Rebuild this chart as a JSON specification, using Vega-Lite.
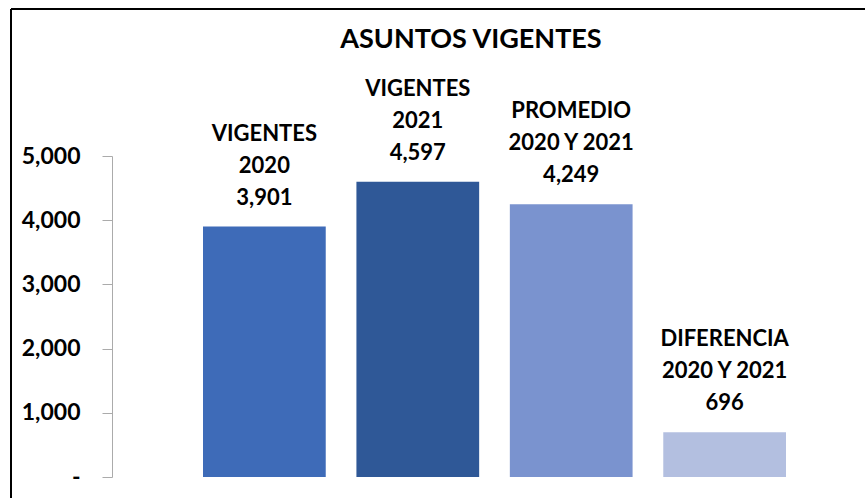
{
  "$schema": "https://vega.github.io/schema/vega-lite/v6.json",
  "autosize": {"type": "none"},
  "padding": {"left": 11, "top": 9, "right": 0, "bottom": 0},
  "width": 858,
  "height": 492,
  "background": "#ffffff",
  "title": {
    "text": "ASUNTOS VIGENTES",
    "anchor": "middle",
    "frame": "group",
    "offset": -66,
    "baseline": "alphabetic",
    "dx": 31,
    "font": "Lato",
    "fontSize": 27,
    "fontWeight": "bold",
    "color": "#000000"
  },
  "config": {
    "view": {"stroke": "#000000", "strokeWidth": 2, "strokeDash": [858, 1350, 492, 0]},
    "axis": {"grid": false}
  },
  "data": {
    "values": [
      {"categoria": "VIGENTES 2020", "valor": 3901, "etiqueta": "VIGENTES\n2020\n3,901"},
      {"categoria": "VIGENTES 2021", "valor": 4597, "etiqueta": "VIGENTES\n2021\n4,597"},
      {"categoria": "PROMEDIO 2020 Y 2021", "valor": 4249, "etiqueta": "PROMEDIO\n2020 Y 2021\n4,249"},
      {"categoria": "DIFERENCIA 2020 Y 2021", "valor": 696, "etiqueta": "DIFERENCIA\n2020 Y 2021\n696"}
    ]
  },
  "encoding": {
    "x": {
      "field": "categoria",
      "type": "nominal",
      "sort": null,
      "axis": null,
      "scale": {"range": [192, 775], "paddingInner": 0.2, "paddingOuter": 0}
    },
    "y": {
      "field": "valor",
      "type": "quantitative",
      "scale": {"domain": [0, 5000], "range": [468, 147], "nice": false},
      "axis": {
        "title": null,
        "orient": "left",
        "offset": -101,
        "values": [0, 1000, 2000, 3000, 4000, 5000],
        "labelExpr": "datum.value == 0 ? '-\u00a0\u00a0\u00a0\u00a0\u00a0' : format(datum.value, ',')",
        "domainColor": "#ababab",
        "domainWidth": 1,
        "tickColor": "#ababab",
        "tickSize": 10,
        "tickWidth": 1,
        "labelPadding": 22,
        "labelFont": "Lato",
        "labelFontSize": 23,
        "labelFontWeight": "bold",
        "labelColor": "#000000",
        "labelAlign": "right",
        "labelBaseline": "middle"
      }
    }
  },
  "layer": [
    {
      "mark": {"type": "bar"},
      "encoding": {
        "color": {
          "field": "categoria",
          "type": "nominal",
          "legend": null,
          "scale": {
            "domain": ["VIGENTES 2020", "VIGENTES 2021", "PROMEDIO 2020 Y 2021", "DIFERENCIA 2020 Y 2021"],
            "range": ["#3e6bb8", "#2f5897", "#7a93cf", "#b3bfe0"]
          }
        }
      }
    },
    {
      "mark": {
        "type": "text",
        "baseline": "bottom",
        "align": "center",
        "dy": -81,
        "lineHeight": 32,
        "lineBreak": "\n",
        "font": "Lato",
        "fontSize": 22,
        "fontWeight": "bold",
        "color": "#000000"
      },
      "encoding": {
        "text": {"field": "etiqueta", "type": "nominal"}
      }
    }
  ]
}
